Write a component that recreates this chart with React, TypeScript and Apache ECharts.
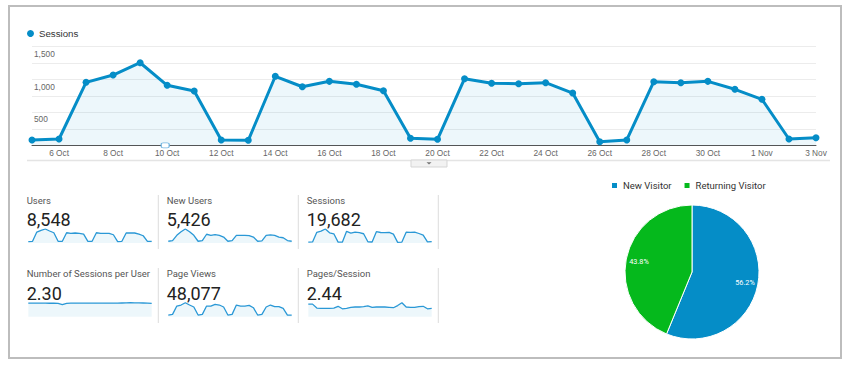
import React, { useEffect, useRef } from 'react';
import * as echarts from 'echarts';

const days = [
  '5 Oct', '6 Oct', '7 Oct', '8 Oct', '9 Oct', '10 Oct', '11 Oct', '12 Oct', '13 Oct', '14 Oct',
  '15 Oct', '16 Oct', '17 Oct', '18 Oct', '19 Oct', '20 Oct', '21 Oct', '22 Oct', '23 Oct', '24 Oct',
  '25 Oct', '26 Oct', '27 Oct', '28 Oct', '29 Oct', '30 Oct', '31 Oct', '1 Nov', '2 Nov', '3 Nov',
];

const sessions = [81, 96, 958, 1069, 1256, 913, 826, 81, 76, 1050, 891, 973, 928, 830, 106, 91, 1013, 943, 937, 952, 795, 55, 81, 967, 952, 973, 852, 700, 96, 116];

const usersDaily = [55, 68, 438, 507, 560, 480, 410, 68, 68, 410, 385, 400, 385, 355, 68, 68, 410, 385, 385, 385, 330, 55, 68, 400, 400, 400, 355, 290, 68, 68];
const newUsersDaily = [52, 73, 229, 333, 416, 333, 229, 52, 73, 260, 229, 250, 229, 177, 52, 73, 229, 229, 229, 218, 177, 52, 62, 229, 239, 229, 177, 156, 73, 52];
const sessionsPerUserDaily = [2.31, 2.30, 2.30, 2.31, 2.30, 2.29, 2.30, 2.25, 2.05, 2.28, 2.30, 2.31, 2.30, 2.30, 2.31, 2.30, 2.31, 2.30, 2.31, 2.32, 2.31, 2.30, 2.33, 2.36, 2.38, 2.36, 2.34, 2.33, 2.32, 2.27];
const pageViewsDaily = [341, 477, 2182, 2387, 2864, 2387, 1978, 341, 477, 2182, 2182, 2523, 2387, 1978, 341, 477, 2387, 2182, 2182, 2319, 1841, 341, 477, 1978, 2387, 2046, 2046, 1705, 341, 341];
const pagesPerSessionDaily = [3.5, 3.5, 2.4, 2.3, 2.3, 2.3, 2.4, 2.9, 2.2, 2.3, 2.6, 2.7, 2.7, 2.8, 3.0, 2.6, 2.7, 2.7, 2.7, 2.6, 2.5, 3.1, 3.9, 2.7, 2.6, 2.6, 2.8, 2.9, 2.2, 2.3];

const yLabelValues = [500, 1000, 1500];

const metricNames = ['Users', 'New Users', 'Sessions', 'Number of Sessions per User', 'Page Views', 'Pages/Session'];
const metricTotals = ['8,548', '5,426', '19,682', '2.30', '48,077', '2.44'];
const metricSeries = [usersDaily, newUsersDaily, sessions, sessionsPerUserDaily, pageViewsDaily, pagesPerSessionDaily];

const visitorTypes = ['New Visitor', 'Returning Visitor'];
const visitorShares = [56.2, 43.8];

const BLUE = '#058dc7';
const GREEN = '#05b91c';
const pieColors = [BLUE, GREEN];

const colX = [28.3, 168.3, 308.3];
const rowTop = [229, 302.7];
const labelX = [26.7, 166.7, 306.7];
const labelY = [200, 273];
const valueY = [219.5, 293];
const dividerX = [158.3, 298.3, 438.3];
const dividerY = [[195, 249], [268, 323]];

function buildOption() {
  const grids: any[] = [{ left: 32, top: 46.7, width: 784, height: 98.6 }];
  const xAxes: any[] = [{
    type: 'category', data: days, boundaryGap: false, gridIndex: 0,
    axisLine: { lineStyle: { color: '#555', width: 1 } },
    axisTick: { show: false },
    axisLabel: {
      interval: (i: number) => i % 2 === 1,
      color: '#666', fontSize: 8.3, fontFamily: 'Arial', margin: 4,
    },
  }];
  const yAxes: any[] = [{
    type: 'value', min: 0, max: 1500, interval: 250, gridIndex: 0,
    axisLine: { show: false }, axisTick: { show: false },
    axisLabel: {
      inside: true, margin: 2, verticalAlign: 'top', padding: [3, 0, 0, 0],
      color: '#666', fontSize: 8.3, fontFamily: 'Arial',
      formatter: (v: number) => (yLabelValues.indexOf(v) >= 0 ? v.toLocaleString('en-US') : ''),
    },
    splitLine: { lineStyle: { color: '#ececec' } },
  }];
  const series: any[] = [{
    type: 'line', name: 'Sessions', data: sessions, xAxisIndex: 0, yAxisIndex: 0,
    symbol: 'circle', symbolSize: 7, showSymbol: true,
    lineStyle: { width: 3, color: BLUE }, itemStyle: { color: BLUE },
    areaStyle: { color: 'rgba(5,141,199,0.1)' },
    markPoint: {
      silent: true,
      symbol: 'roundRect', symbolSize: [8, 5], symbolOffset: [-2, 0],
      itemStyle: { color: '#fff', borderColor: '#6fb4e0', borderWidth: 1 },
      label: { show: false },
      data: [{ coord: ['10 Oct', 0] }],
    },
  }];

  metricSeries.forEach((data, k) => {
    const r = Math.floor(k / 3);
    const c = k % 3;
    const gi = k + 1;
    grids.push({ left: colX[c], top: rowTop[r], width: 123.4, height: 14 });
    xAxes.push({ type: 'category', data: days, boundaryGap: false, gridIndex: gi, show: false });
    yAxes.push({ type: 'value', min: 0, max: 'dataMax', gridIndex: gi, show: false, splitLine: { show: false } });
    series.push({
      type: 'line', name: metricNames[k] + ' trend', data, xAxisIndex: gi, yAxisIndex: gi,
      showSymbol: false, symbol: 'none', silent: true,
      lineStyle: { width: 1.3, color: '#2a98d6' },
      areaStyle: { color: 'rgba(5,141,199,0.1)' },
    });
  });

  const pieData = visitorTypes.map((n, i) => ({ name: n, value: visitorShares[i], itemStyle: { color: pieColors[i] } }));
  series.push({
    type: 'pie', name: 'Visitors', center: [692, 272], radius: [0, 67], startAngle: 90, clockwise: true,
    data: pieData, label: { show: false }, labelLine: { show: false },
    itemStyle: { borderColor: '#fff', borderWidth: 1 }, silent: true,
  });
  series.push({
    type: 'pie', name: 'Visitor labels', center: [692, 272], radius: [35, 67], startAngle: 90, clockwise: true,
    data: visitorTypes.map((n, i) => ({ name: n, value: visitorShares[i], itemStyle: { color: 'rgba(0,0,0,0)' } })),
    label: {
      show: true, position: 'inside', color: '#fff', fontSize: 7.3, fontFamily: 'Roboto',
      formatter: (p: any) => p.value.toFixed(1) + '%',
    },
    labelLine: { show: false }, silent: true, z: 5,
  });

  const graphics: any[] = [
    { type: 'rect', shape: { x: 9, y: 6, width: 832, height: 352 }, style: { fill: 'none', stroke: '#bdbdbd', lineWidth: 2 } },
    { type: 'line', shape: { x1: 27, y1: 160.5, x2: 830, y2: 160.5 }, style: { stroke: '#e4e4e4', lineWidth: 1.5 } },
    { type: 'rect', shape: { x: 411, y: 160, width: 36, height: 7 }, style: { fill: '#f2f2f2', stroke: '#d5d5d5', lineWidth: 1 } },
    { type: 'polygon', shape: { points: [[426.5, 162.3], [431.5, 162.3], [429, 164.5]] }, style: { fill: '#777' } },
  ];
  dividerX.forEach((x) => {
    dividerY.forEach(([y1, y2]) => {
      graphics.push({ type: 'line', shape: { x1: x, y1, x2: x, y2 }, style: { stroke: '#dddddd', lineWidth: 1 } });
    });
  });
  metricNames.forEach((name, k) => {
    const r = Math.floor(k / 3);
    const c = k % 3;
    graphics.push({
      type: 'text', x: labelX[c], y: labelY[r],
      style: { text: name, font: '9.5px Roboto', fill: '#555', textAlign: 'left', textVerticalAlign: 'middle' },
    });
    graphics.push({
      type: 'text', x: labelX[c], y: valueY[r],
      style: { text: metricTotals[k], font: '18px Roboto', fill: '#222', textAlign: 'left', textVerticalAlign: 'middle' },
    });
  });

  return {
    animation: false,
    backgroundColor: '#fff',
    color: pieColors,
    legend: [
      {
        data: ['Sessions'], left: 27, top: 28.5, padding: 0, icon: 'circle', itemWidth: 7, itemHeight: 7, itemGap: 10,
        textStyle: { color: '#333', fontSize: 9.7, fontFamily: 'Arial' }, selectedMode: false,
      },
      {
        data: visitorTypes, left: 610, top: 180.5, padding: 0, icon: 'rect', itemWidth: 7, itemHeight: 7, itemGap: 11,
        textStyle: { color: '#333', fontSize: 9.5, fontFamily: 'Roboto' }, selectedMode: false,
      },
    ],
    grid: grids,
    xAxis: xAxes,
    yAxis: yAxes,
    series,
    graphic: graphics,
  };
}

export default function App() {
  const ref = useRef<HTMLDivElement>(null);
  useEffect(() => {
    if (!ref.current) return;
    const chart = echarts.init(ref.current, null, { renderer: 'svg' });
    chart.setOption(buildOption() as any);
    return () => chart.dispose();
  }, []);
  return (
    <div
      ref={ref}
      style={{ position: 'fixed', left: 0, top: 0, width: 853, height: 369, background: '#fff' }}
    />
  );
}
